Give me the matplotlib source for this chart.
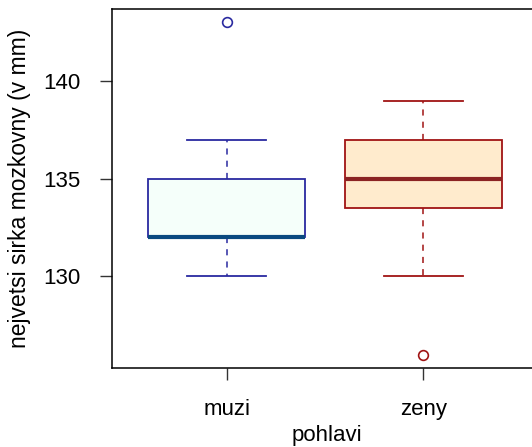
import matplotlib
matplotlib.use("Agg")
import matplotlib.pyplot as plt

plt.rcParams['font.family'] = ['Liberation Sans', 'DejaVu Sans']

categories = ["muzi", "zeny"]
whislo = [130, 130]
q1 = [132, 133.5]
med = [132, 135]
q3 = [135, 137]
whishi = [137, 139]
fliers = [[143], [126]]

edge_colors = ["#2a2aa0", "#a01414"]
fill_colors = ["#f5fffa", "#ffebcd"]
median_colors = ["#0a4a80", "#8b2323"]

W, H = 532, 447
fig = plt.figure(figsize=(W / 100, H / 100), dpi=100)
left_px, top_px, bottom_px = 112, 9, 368
x1_px, x2_px = 226.7, 423.3
unit = x2_px - x1_px
xmin = 1 - (x1_px - left_px) / unit
xmax = 2.6
right_px = x2_px + (xmax - 2) * unit
ax = fig.add_axes([left_px / W, 1 - bottom_px / H, (right_px - left_px) / W, (bottom_px - top_px) / H])

for i in range(len(categories)):
    stats = [dict(med=med[i], q1=q1[i], q3=q3[i], whislo=whislo[i], whishi=whishi[i], fliers=fliers[i])]
    ax.bxp(stats, positions=[i + 1], widths=0.8, patch_artist=True, manage_ticks=False,
           boxprops=dict(facecolor=fill_colors[i], edgecolor=edge_colors[i], linewidth=1.3),
           whiskerprops=dict(color=edge_colors[i], linestyle=(0, (4, 4)), linewidth=1.1),
           capprops=dict(color=edge_colors[i], linewidth=1.3),
           medianprops=dict(color=median_colors[i], linewidth=3, solid_capstyle='butt'),
           flierprops=dict(marker='o', markersize=7, markerfacecolor='none',
                           markeredgecolor=edge_colors[i], markeredgewidth=1.2),
           capwidths=0.4)

ax.set_xlim(xmin, xmax)
lo, hi = 126, 143
pad = (hi - lo) * 0.04
ax.set_ylim(lo - pad, hi + pad)
ax.set_yticks([130, 135, 140])
ax.set_xticks([1, 2])
ax.set_xticklabels(categories)
ax.tick_params(axis='both', length=8.6, width=1, labelsize=16, color='#333333')
ax.tick_params(axis='y', pad=14)
ax.tick_params(axis='x', pad=14)
for s in ax.spines.values():
    s.set_linewidth(1.1)
ax.set_xlabel("pohlavi", fontsize=16, labelpad=3)
ax.set_ylabel("nejvetsi sirka mozkovny (v mm)", fontsize=16.5, labelpad=9)
fig.savefig("out.png", dpi=100)
